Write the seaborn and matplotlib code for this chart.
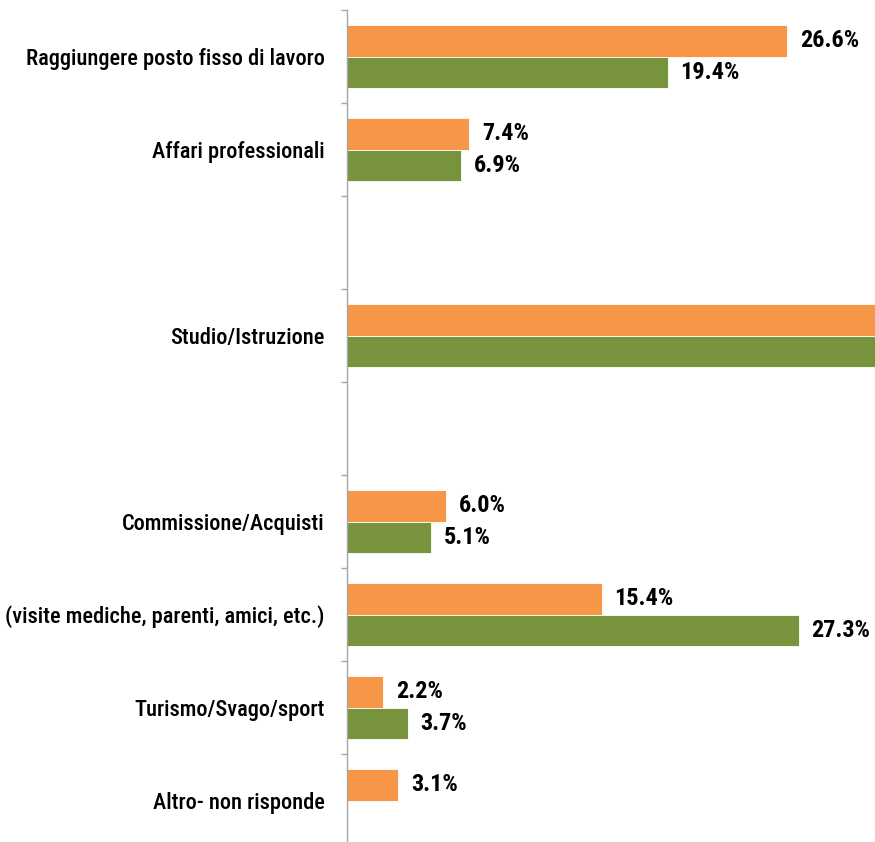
import numpy as np
import pandas as pd
import matplotlib.pyplot as plt
import seaborn as sns
from matplotlib.ticker import FixedLocator

# Dati (percentuali; Studio/Istruzione fuori scala, stimato come resto a 100)
categorie = ["Raggiungere posto fisso di lavoro", "Affari professionali", " ",
             "Studio/Istruzione", "  ", "Commissione/Acquisti",
             "(visite mediche, parenti, amici, etc.)", "Turismo/Svago/sport",
             "Altro- non risponde"]
serie_nomi = ["Serie 1", "Serie 2"]
valori_arancio = [26.6, 7.4, np.nan, 39.3, np.nan, 6.0, 15.4, 2.2, 3.1]
valori_verde = [19.4, 6.9, np.nan, 37.6, np.nan, 5.1, 27.3, 3.7, np.nan]

colori = ["#F79646", "#77933C"]

df = pd.DataFrame({
    "categoria": categorie * 2,
    "serie": [serie_nomi[0]] * len(categorie) + [serie_nomi[1]] * len(categorie),
    "valore": valori_arancio + valori_verde,
}).dropna()

sns.set_style("white")
plt.rcParams['font.family'] = ['Roboto Condensed', 'Liberation Sans Narrow', 'Lato', 'DejaVu Sans']
plt.rcParams['text.color'] = 'black'
plt.rcParams['ytick.labelcolor'] = 'black'

fig = plt.figure(figsize=(8.75, 8.42), dpi=100)
ax = fig.add_axes([347 / 875, -5 / 842, 1 - 347 / 875, 837 / 842])

sns.barplot(data=df, y="categoria", x="valore", hue="serie", order=categorie,
            hue_order=serie_nomi, palette=colori, saturation=1, orient="h",
            width=0.667, errorbar=None, edgecolor="white", linewidth=0.6,
            legend=False, ax=ax)

# Etichette dei valori
for cont in ax.containers:
    ax.bar_label(cont, fmt="%.1f%%", padding=9, fontsize=17.5, fontweight="bold",
                 color="black")

ax.set_xlim(0, (875 - 347) / 16.55)
ax.set_ylim(len(categorie) - 0.5, -0.5)
ax.set_xlabel("")
ax.set_ylabel("")
ax.xaxis.set_visible(False)

# Etichette categorie al centro, tacche tra le categorie
ax.tick_params(axis="y", which="major", length=0, pad=16, labelsize=16.1,
               labelcolor="black")
for lab in ax.get_yticklabels():
    lab.set_fontweight("medium")
ax.yaxis.set_minor_locator(FixedLocator(np.arange(-0.5, len(categorie), 1.0)))
ax.tick_params(axis="y", which="minor", length=4.5, width=1, color="#A6A6A6",
               left=True)

for s in ["top", "right", "bottom"]:
    ax.spines[s].set_visible(False)
ax.spines["left"].set_color("#A6A6A6")
ax.spines["left"].set_linewidth(1)

fig.savefig("out.png", dpi=100)
